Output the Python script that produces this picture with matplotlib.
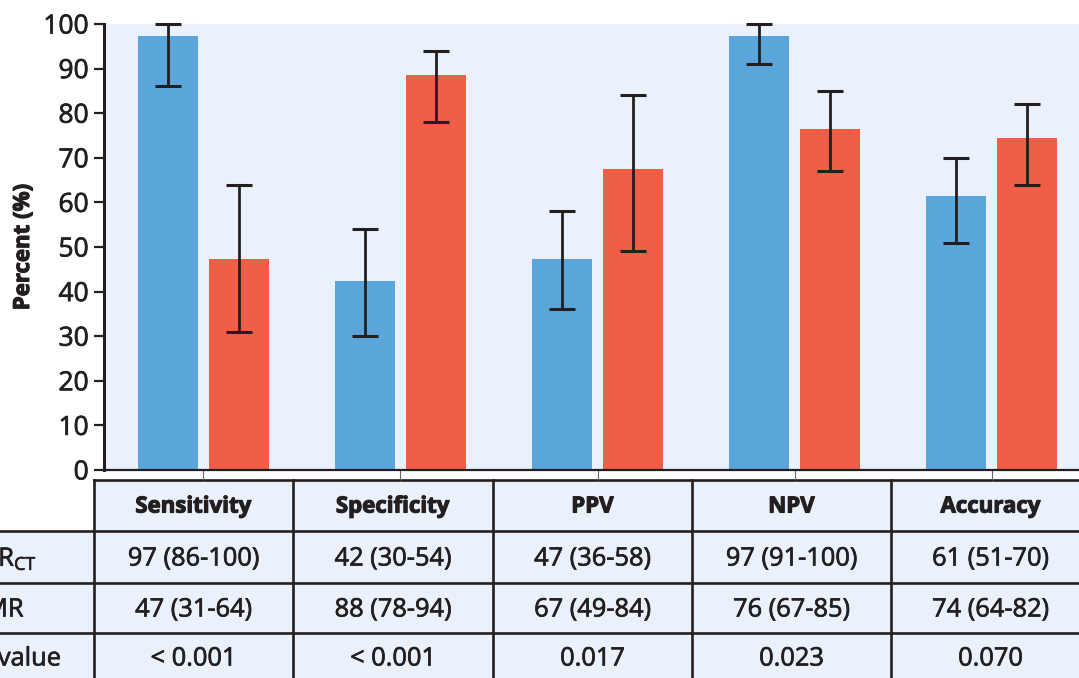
import numpy as np
import matplotlib.pyplot as plt
import matplotlib.patheffects as pe
from matplotlib.patches import Rectangle

plt.rcParams.update({
    "font.family": ["Open Sans", "DejaVu Sans"],
    "mathtext.fontset": "custom",
    "mathtext.rm": "Open Sans",
    "mathtext.it": "Open Sans:italic",
    "mathtext.bf": "Open Sans:bold",
})

# data
metrics = ["Sensitivity", "Specificity", "PPV", "NPV", "Accuracy"]
ffrct_val = [97.4, 42.4, 47.4, 97.4, 61.4]
ffrct_lo = [86, 30, 36, 91, 51]
ffrct_hi = [100, 54, 58, 100, 70]
cmr_val = [47.4, 88.5, 67.5, 76.5, 74.4]
cmr_lo = [31, 78, 49, 67, 64]
cmr_hi = [64, 94, 84, 85, 82]
row_labels = ["FFR$_{\\mathrm{CT}}$", "CMR", "P value"]
ffrct_txt = ["97 (86-100)", "42 (30-54)", "47 (36-58)", "97 (91-100)", "61 (51-70)"]
cmr_txt = ["47 (31-64)", "88 (78-94)", "67 (49-84)", "76 (67-85)", "74 (64-82)"]
p_txt = ["< 0.001", "< 0.001", "0.017", "0.023", "0.070"]

BLUE = "#5aa6da"
RED = "#f05e47"
BG = "#eaf1fa"
INK = "#231f20"
heavy = [pe.withStroke(linewidth=0.5, foreground=INK)]
heavier = [pe.withStroke(linewidth=0.8, foreground=INK)]

W, H = 1079, 678
fig = plt.figure(figsize=(W / 100, H / 100), dpi=100)

# table drawn in pixel space on a full-figure axes
tax = fig.add_axes([0, 0, 1, 1], zorder=0)
tax.set_xlim(0, W)
tax.set_ylim(H, 0)
tax.axis("off")

ax = fig.add_axes([104 / W, 208 / H, 987 / W, 446 / H], zorder=1)
ax.set_facecolor(BG)

x = np.arange(len(metrics))
bw = 0.305
off = 0.180
ffrct_err = [np.array(ffrct_val) - np.array(ffrct_lo), np.array(ffrct_hi) - np.array(ffrct_val)]
cmr_err = [np.array(cmr_val) - np.array(cmr_lo), np.array(cmr_hi) - np.array(cmr_val)]
ekw = dict(ecolor=INK, elinewidth=2.0, capsize=9.5, capthick=2.2)
b1 = ax.bar(x - off, ffrct_val, bw, color=BLUE, yerr=ffrct_err, error_kw=ekw)
b2 = ax.bar(x + off, cmr_val, bw, color=RED, yerr=cmr_err, error_kw=ekw)
for c in list(b1.errorbar.lines[1]) + list(b1.errorbar.lines[2]) + \
        list(b2.errorbar.lines[1]) + list(b2.errorbar.lines[2]):
    c.set_clip_on(False)

ax.set_xlim(-0.505, 4.505)
ax.set_ylim(0, 100)
ax.set_yticks(np.arange(0, 101, 10))
ax.set_xticks(x)
ax.set_xticklabels([])
ax.tick_params(axis="y", length=7, width=1.6, color=INK, labelsize=19, pad=4,
               labelcolor=INK)
for t in ax.get_yticklabels():
    t.set_path_effects(heavy)
ax.tick_params(axis="x", length=7.5, width=0.8, color="#666666")
for s in ["top", "right"]:
    ax.spines[s].set_visible(False)
ax.spines["left"].set_linewidth(2.2)
ax.spines["left"].set_color(INK)
ax.spines["bottom"].set_linewidth(1.6)
ax.spines["bottom"].set_color(INK)
ax.set_ylabel("Percent (%)", fontsize=16, fontweight="bold", color=INK,
              path_effects=heavier)
ax.yaxis.set_label_coords(-70 / 987, 0.5)

# table
col_x = [94, 293, 493, 692, 891, 1090]
row_y = [480, 531, 583, 633, 690]
tax.add_patch(Rectangle((col_x[0], row_y[0]), col_x[-1] - col_x[0], row_y[1] - row_y[0],
                        facecolor=BG, edgecolor="none"))
tax.add_patch(Rectangle((-10, row_y[1]), col_x[-1] + 10, row_y[-1] - row_y[1],
                        facecolor=BG, edgecolor="none"))
lw = 1.9
tax.plot([col_x[0], col_x[-1]], [row_y[0], row_y[0]], color=INK, lw=lw, solid_capstyle="projecting")
for yy in row_y[1:4]:
    tax.plot([-10, col_x[-1]], [yy, yy], color=INK, lw=lw)
for xx in col_x:
    tax.plot([xx, xx], [row_y[0], row_y[-1]], color=INK, lw=lw, solid_capstyle="projecting")

centers = [(col_x[i] + col_x[i + 1]) / 2 for i in range(len(metrics))]
ycent = [507, 559, 610, 659]
for i, m in enumerate(metrics):
    tax.text(centers[i], ycent[0], m, ha="center", va="center", fontsize=16,
             fontweight="bold", color=INK, path_effects=heavier)
    for r, rows in enumerate([ffrct_txt, cmr_txt, p_txt]):
        tax.text(centers[i], ycent[r + 1], rows[i], ha="center", va="center",
                 fontsize=18.3, color=INK, path_effects=heavy)
label_x = [-28, -31, -24]
for r, lab in enumerate(row_labels):
    tax.text(label_x[r], ycent[r + 1], lab, ha="left", va="center", fontsize=18.3,
             color=INK, path_effects=heavy)

fig.savefig("out.png", dpi=100)
